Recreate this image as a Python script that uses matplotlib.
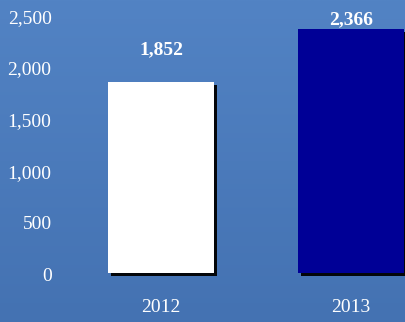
import numpy as np
import matplotlib
matplotlib.use("Agg")
import matplotlib.pyplot as plt
import matplotlib.patheffects as pe

# Data
years = ["2012", "2013"]
values = [1852, 2366]
bar_colors = ["#ffffff", "#000096"]
y_ticks = [0, 500, 1000, 1500, 2000, 2500]
y_tick_labels = ["0", "500", "1,000", "1,500", "2,000", "2,500"]
label_lift = [315, 90]  # how far above each bar its value label sits

plt.rcParams['font.family'] = ['Liberation Serif', 'DejaVu Serif']

W, H = 405, 322
fig = plt.figure(figsize=(W / 100, H / 100), dpi=100)

# background: soft blue vertical gradient
bg = fig.add_axes([0, 0, 1, 1], zorder=0)
grad = np.linspace(0, 1, 256).reshape(-1, 1)
top = np.array([82, 131, 196]) / 255
bot = np.array([68, 114, 178]) / 255
img = top + (bot - top) * grad[..., None]
bg.imshow(img, aspect="auto", extent=[0, 1, 0, 1])
bg.set_axis_off()

# plot area: x from px 62 to 405, y from px 0 to 273 (zero line)
ax = fig.add_axes([62 / W, (H - 273) / H, (W - 62) / W, 273 / H], zorder=1)
ax.patch.set_alpha(0)

x = np.arange(len(years))
shadow = [pe.withSimplePatchShadow(offset=(2.2, -2.2), shadow_rgbFace="black", alpha=0.95), pe.Normal()]
bars = ax.bar(x, values, width=0.558, color=bar_colors, edgecolor="none", clip_on=False)
for b in bars:
    b.set_path_effects(shadow)

for xi, v, lift in zip(x, values, label_lift):
    ax.text(xi, v + lift, f"{v:,}", ha="center", va="center", color="white",
            fontsize=14, fontweight="bold")

ax.set_xlim((62 - 161) / 190, (405 - 161) / 190)
ax.set_ylim(0, 2645)
ax.set_xticks(x)
ax.set_xticklabels(years)
ax.set_yticks(y_ticks)
ax.set_yticklabels([])
ax.tick_params(axis="both", length=0)
ax.tick_params(axis="x", pad=19, labelsize=14, labelcolor="white")
for s in ax.spines.values():
    s.set_visible(False)

# y labels drawn slightly below their tick value, as in the reference
for t, lab in zip(y_ticks, y_tick_labels):
    ax.annotate(lab, xy=(0, t), xycoords=("axes fraction", "data"),
                xytext=(-7.5, -2.5), textcoords="offset points",
                ha="right", va="center", color="white", fontsize=14)

fig.savefig("out.png", dpi=100)
